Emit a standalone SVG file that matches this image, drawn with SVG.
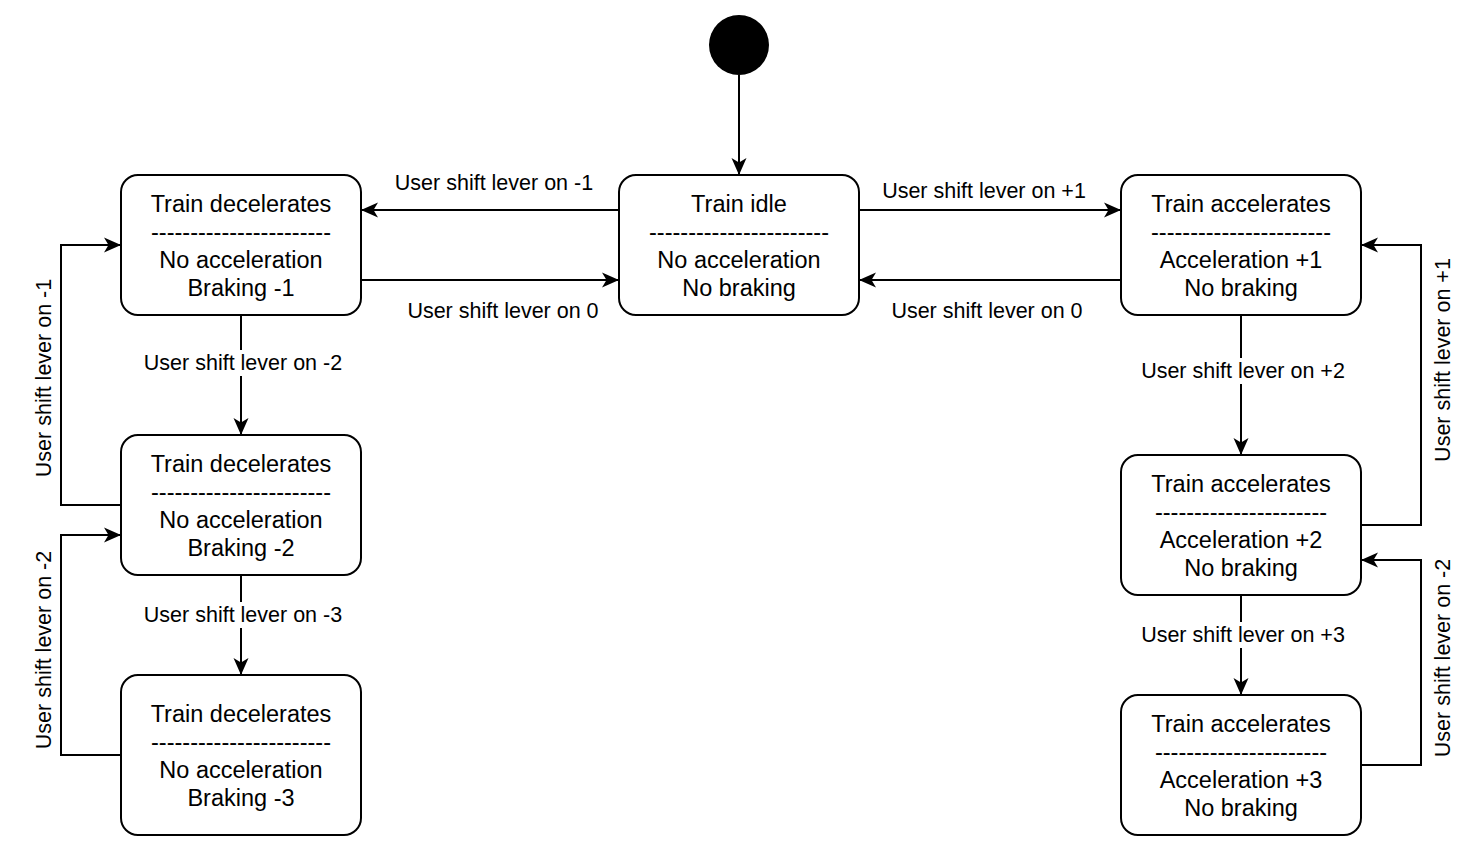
<svg xmlns="http://www.w3.org/2000/svg" width="1478" height="862" viewBox="0 0 1478 862">
<style>
.node{fill:#fff;stroke:#000;stroke-width:2}
.nt{font-family:"Liberation Sans",Arial,sans-serif;font-size:23.5px;fill:#000;text-anchor:middle}
.lbl{font-family:"Liberation Sans",Arial,sans-serif;font-size:21.5px;fill:#000;text-anchor:middle}
.edge{fill:none;stroke:#000;stroke-width:2;marker-end:url(#arr)}
.bg{fill:#fff}
</style>
<defs>
<marker id="arr" markerUnits="userSpaceOnUse" markerWidth="22" markerHeight="22" viewBox="-20 -10 22 20" refX="0" refY="0" orient="auto">
<path d="M0,0 L-17,-7.5 L-12.5,0 L-17,7.5 Z" fill="#000"/>
</marker>
</defs>
<rect width="1478" height="862" fill="#fff"/>
<g id="connectors">
<path class="edge" d="M739,75 L739,175"/>
<path class="edge" d="M619,210 L361,210"/>
<path class="edge" d="M361,280 L619,280"/>
<path class="edge" d="M859,210 L1121,210"/>
<path class="edge" d="M1121,280 L859,280"/>
<path class="edge" d="M241,315 L241,435"/>
<path class="edge" d="M121,505 L61,505 L61,245 L121,245"/>
<path class="edge" d="M241,575 L241,675"/>
<path class="edge" d="M121,755 L61,755 L61,535 L121,535"/>
<path class="edge" d="M1241,315 L1241,455"/>
<path class="edge" d="M1361,525 L1421,525 L1421,245 L1361,245"/>
<path class="edge" d="M1241,595 L1241,695"/>
<path class="edge" d="M1361,765 L1421,765 L1421,560 L1361,560"/>
<text class="lbl" x="494" y="190">User shift lever on -1</text>
<text class="lbl" x="503" y="318">User shift lever on 0</text>
<text class="lbl" x="984" y="198">User shift lever on +1</text>
<text class="lbl" x="987" y="318">User shift lever on 0</text>
<rect class="bg" x="140" y="350" width="206" height="26"/>
<text class="lbl" x="243" y="370">User shift lever on -2</text>
<rect class="bg" x="140" y="602" width="206" height="26"/>
<text class="lbl" x="243" y="622">User shift lever on -3</text>
<rect class="bg" x="1137" y="358" width="212" height="26"/>
<text class="lbl" x="1243" y="378">User shift lever on +2</text>
<rect class="bg" x="1137" y="622" width="212" height="26"/>
<text class="lbl" x="1243" y="642">User shift lever on +3</text>
<text class="lbl" transform="translate(51,378) rotate(-90)">User shift lever on -1</text>
<text class="lbl" transform="translate(51,650) rotate(-90)">User shift lever on -2</text>
<text class="lbl" transform="translate(1450,360) rotate(-90)">User shift lever on +1</text>
<text class="lbl" transform="translate(1450,658) rotate(-90)">User shift lever on -2</text>
</g>
<g id="start"><circle cx="739" cy="45" r="30" fill="#000"/></g>
<g id="idle">
<rect class="node" x="619" y="175" width="240" height="140" rx="17"/>
<text class="nt" x="739" y="212">Train idle</text>
<text class="nt" x="739" y="240">-----------------------</text>
<text class="nt" x="739" y="268">No acceleration</text>
<text class="nt" x="739" y="296">No braking</text>
</g>
<g id="dec1">
<rect class="node" x="121" y="175" width="240" height="140" rx="17"/>
<text class="nt" x="241" y="212">Train decelerates</text>
<text class="nt" x="241" y="240">-----------------------</text>
<text class="nt" x="241" y="268">No acceleration</text>
<text class="nt" x="241" y="296">Braking -1</text>
</g>
<g id="dec2">
<rect class="node" x="121" y="435" width="240" height="140" rx="17"/>
<text class="nt" x="241" y="472">Train decelerates</text>
<text class="nt" x="241" y="500">-----------------------</text>
<text class="nt" x="241" y="528">No acceleration</text>
<text class="nt" x="241" y="556">Braking -2</text>
</g>
<g id="dec3">
<rect class="node" x="121" y="675" width="240" height="160" rx="17"/>
<text class="nt" x="241" y="722">Train decelerates</text>
<text class="nt" x="241" y="750">-----------------------</text>
<text class="nt" x="241" y="778">No acceleration</text>
<text class="nt" x="241" y="806">Braking -3</text>
</g>
<g id="acc1">
<rect class="node" x="1121" y="175" width="240" height="140" rx="17"/>
<text class="nt" x="1241" y="212">Train accelerates</text>
<text class="nt" x="1241" y="240">-----------------------</text>
<text class="nt" x="1241" y="268">Acceleration +1</text>
<text class="nt" x="1241" y="296">No braking</text>
</g>
<g id="acc2">
<rect class="node" x="1121" y="455" width="240" height="140" rx="17"/>
<text class="nt" x="1241" y="492">Train accelerates</text>
<text class="nt" x="1241" y="520">----------------------</text>
<text class="nt" x="1241" y="548">Acceleration +2</text>
<text class="nt" x="1241" y="576">No braking</text>
</g>
<g id="acc3">
<rect class="node" x="1121" y="695" width="240" height="140" rx="17"/>
<text class="nt" x="1241" y="732">Train accelerates</text>
<text class="nt" x="1241" y="760">----------------------</text>
<text class="nt" x="1241" y="788">Acceleration +3</text>
<text class="nt" x="1241" y="816">No braking</text>
</g>
</svg>
